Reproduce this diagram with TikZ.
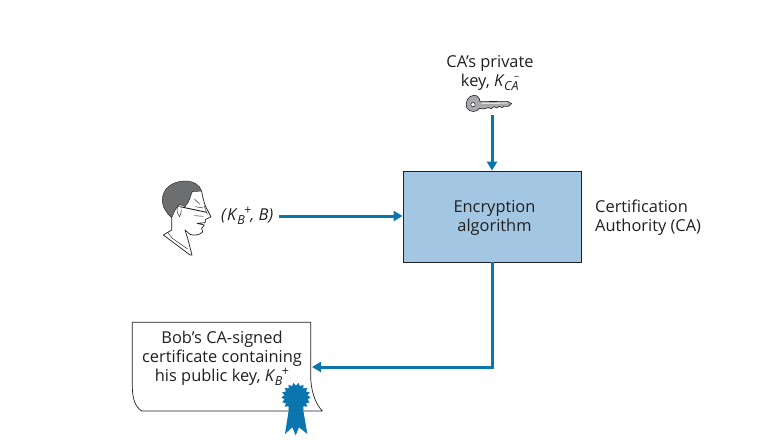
\documentclass[tikz,border=0pt]{standalone}
\usepackage{fontspec}
\setmainfont{Open Sans}
\usetikzlibrary{arrows.meta,shapes.geometric,calc}
\definecolor{flow}{HTML}{0B76AE}
\definecolor{boxfill}{HTML}{A3C6E2}
\definecolor{ink}{HTML}{231F20}
\definecolor{hair}{HTML}{6D6E70}
\definecolor{keygrey}{HTML}{A7A9AC}
\tikzset{
  every node/.style={text=ink,font=\fontsize{16.4pt}{19pt}\selectfont},
  txt/.style={align=center,inner sep=0pt},
  flowline/.style={draw=flow,line width=3pt,-{Triangle[length=9pt,width=10pt]}},
  linedraw/.style={draw=ink,line width=.7pt,line join=round},
  finedraw/.style={draw=ink,line width=.45pt,line join=round}
}
\newcommand{\supsub}[2]{\textit{K}\kern-.5pt\smash{\raisebox{-3.5pt}{\fontsize{12.5pt}{10pt}\selectfont\textit{#1}}\raisebox{6.5pt}{\fontsize{12.5pt}{10pt}\selectfont\kern-.5pt #2}}}
\begin{document}
\begin{tikzpicture}[x=1pt,y=-1pt]
\useasboundingbox[fill=white] (0,0) rectangle (770,447);

% Encryption box
\node[draw=ink,line width=.8pt,fill=boxfill,minimum width=178pt,minimum height=91pt,inner sep=0pt,align=center] (enc) at (492,216.5) {};
\node[txt] (enclab) at (494.5,218) {Encryption\\algorithm};
\node[txt,align=left,anchor=west] (ca) at (595,218) {Certification\\Authority (CA)};

% key label
\node[txt] (keylab) at (490,73) {CA’s private\\key, \supsub{CA}{\kern-4pt\raisebox{1pt}{\fontsize{10pt}{10pt}\selectfont –}}};

% key
\begin{scope}[shift={(430,45)},x=.3333pt,y=-.3333pt]
  \fill[keygrey,draw=ink,line width=.6pt] (150,170) -- (232,169) -- (245,176) -- (236,184) -- (222,184) -- (216,188) -- (208,184) -- (200,189) -- (192,185) -- (184,191) -- (175,188) -- (160,192) -- (148,190) .. controls (142,202) and (118,204) .. (110,188) .. controls (104,170) and (115,152) .. (132,151) .. controls (144,151) and (149,160) .. (150,170) -- cycle;
  \fill[white,draw=ink,line width=.5pt] (129,179) circle (6.5);
  \draw[white,line width=.8pt] (155,175) -- (232,174);
\end{scope}
\coordinate (keyend) at (492,115);

% Person
\begin{scope}[shift={(155,175)},x=.3333pt,y=-.3333pt]
  % neck and collar
  \draw[linedraw] (50,128) -- (50,165) -- (25,180) -- (105,240) -- (111,240) -- (98,190) -- (90,165);
  \draw[finedraw] (38,172) -- (52,190) -- (98,222);
  % hair
  \fill[hair,draw=ink,line width=.4pt] (50,128) .. controls (35,115) and (20,95) .. (22,70) .. controls (25,38) and (55,18) .. (90,18) .. controls (115,18) and (135,30) .. (140,48) -- (112,50) .. controls (106,62) and (105,80) .. (90,95) -- (75,88) .. controls (65,92) and (58,110) .. (50,128) -- cycle;
  % face
  \draw[linedraw] (140,48) .. controls (143,70) and (150,95) .. (160,110) -- (168,126) -- (152,133) -- (150,143) -- (126,145) -- (148,150) -- (140,160) -- (143,171) .. controls (132,182) and (115,182) .. (105,178) -- (90,165);
  % ear
  \draw[finedraw] (75,92) .. controls (64,92) and (62,112) .. (74,125) .. controls (80,118) and (78,108) .. (78,100);
  % glasses
  \draw[linedraw,line width=.9pt] (75,95) -- (155,112);
  \draw[finedraw] (148,93) -- (157,118);
  \draw[finedraw] (118,72) -- (135,88);
  \draw[finedraw] (120,95) -- (145,99);
  \draw[finedraw] (118,122) -- (145,124);
\end{scope}
\node[txt,anchor=west] (msg) at (221,216) {\textit{(}\supsub{B}{+}\kern-1pt\textit{, B)}};

% Certificate
\begin{scope}[shift={(120,310)},x=.3333pt,y=-.3333pt]
  \draw[linedraw,fill=white] (37,37) -- (572,37) -- (572,195) .. controls (572,240) and (585,280) .. (607,303) -- (65,303) .. controls (45,290) and (37,265) .. (37,230) -- cycle;
  % ribbon tails
  \fill[flow] (508,290) -- (495,372) -- (517,352) -- (527,376) -- (537,352) -- (562,372) -- (548,290) -- cycle;
  % seal
  \fill[flow] ($(528,262)+(0:44)$)
    \foreach \a in {0,20,...,340}{ -- ($(528,262)+(\a:44)$) -- ($(528,262)+(\a+10:35)$)} -- cycle;
\end{scope}
\coordinate (certin) at (312,367);
\node[txt] (cert) at (222,358.5) {Bob’s CA-signed\\certificate containing\\his public key, \supsub{B}{+}};

% Connectors
\draw[flowline] (keyend) -- (keyend |- enc.north);
\draw[flowline] (279,0 |- msg.east) -- (enc.west |- msg.east);
\draw[flowline] (enc.south) -- (enc.south |- certin) -- (certin);
\end{tikzpicture}
\end{document}
